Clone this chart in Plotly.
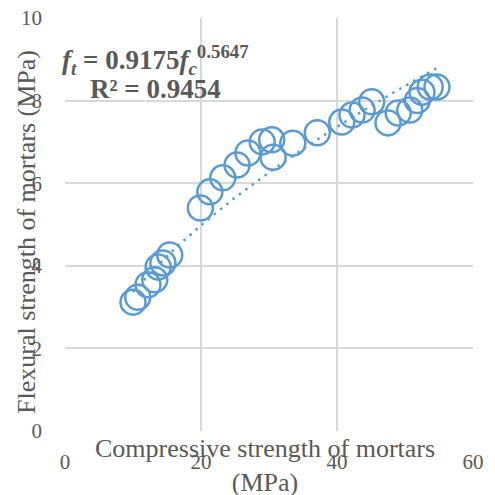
import numpy as np
import plotly.graph_objects as go

# Data
compressive = [10.0, 10.7, 12.2, 13.2, 13.7, 14.4, 15.4, 19.9, 21.3, 23.2, 25.3, 26.9,
               29.0, 30.4, 30.6, 33.5, 37.1, 40.7, 42.2, 43.7, 45.1, 47.5, 49.0, 50.7,
               51.8, 52.5, 53.7, 54.7]
flexural = [3.12, 3.24, 3.54, 3.66, 3.97, 4.07, 4.26, 5.40, 5.79, 6.13, 6.44, 6.73,
            7.00, 7.05, 6.63, 6.97, 7.22, 7.48, 7.65, 7.77, 7.97, 7.46, 7.70, 7.77,
            8.00, 8.20, 8.33, 8.33]

# Power trendline coefficients shown on the chart
fit_a = 0.9175
fit_b = 0.5647

x_ticks = [0, 20, 40, 60]
y_ticks = [0, 2, 4, 6, 8, 10]

BLUE = "#5B9BD5"
TXT = "#595959"
GRID = "#D9D9D9"
FONT = "Liberation Serif"

xs = np.linspace(min(compressive), max(compressive), 200)
ys = fit_a * xs ** fit_b

fig = go.Figure()
fig.add_trace(go.Scatter(
    x=compressive, y=flexural, mode="markers",
    marker=dict(symbol="circle-open", size=25, color=BLUE, line=dict(width=2.5, color=BLUE)),
    showlegend=False, hoverinfo="skip"))
fig.add_trace(go.Scatter(
    x=xs, y=ys, mode="lines",
    line=dict(color=BLUE, width=2.5, dash="2.5px,5.5px"),
    showlegend=False, hoverinfo="skip"))

axis_common = dict(
    showgrid=True, gridcolor=GRID, gridwidth=1.5,
    zeroline=False, showline=False, ticks="", automargin=False,
    ticklabeloverflow="allow",
    tickfont=dict(family=FONT, size=21, color=TXT),
)

fig.update_xaxes(range=[0, 60], tickvals=x_ticks, ticklabelstandoff=16, **axis_common)
fig.update_yaxes(range=[0, 10], tickvals=y_ticks, ticklabelstandoff=22, **axis_common)

fig.update_layout(
    width=495, height=495,
    margin=dict(l=57, r=30, t=10, b=72),
    paper_bgcolor="white", plot_bgcolor="white",
    shapes=[
        dict(type="rect", xref="paper", yref="paper", x0=-0.012, x1=0.471, y0=0.785, y1=0.959,
             fillcolor="white", line=dict(width=0), layer="between"),
    ],
    annotations=[
        dict(text="Compressive strength of mortars<br>(MPa)", xref="paper", yref="paper",
             x=0.49, y=-0.083, xanchor="center", yanchor="middle", showarrow=False,
             font=dict(family=FONT, size=26, color=TXT)),
        dict(text="Flexural strength of mortars (MPa)", xref="paper", yref="paper",
             x=-0.093, y=0.482, xanchor="center", yanchor="middle", showarrow=False,
             textangle=-90, font=dict(family=FONT, size=26, color=TXT)),
        dict(text="<b><i>f</i><sub><i>t</i></sub> = 0.9175<i>f</i><sub><i>c</i></sub><sup>0.5647</sup></b>",
             xref="paper", yref="paper", x=0.223, y=0.899, xanchor="center", yanchor="middle",
             showarrow=False, align="center",
             font=dict(family=FONT, size=27, color=TXT)),
        dict(text="<b>R² = 0.9454</b>",
             xref="paper", yref="paper", x=0.223, y=0.829, xanchor="center", yanchor="middle",
             showarrow=False, align="center",
             font=dict(family=FONT, size=27, color=TXT)),
    ],
)

fig.write_html("out.html")
